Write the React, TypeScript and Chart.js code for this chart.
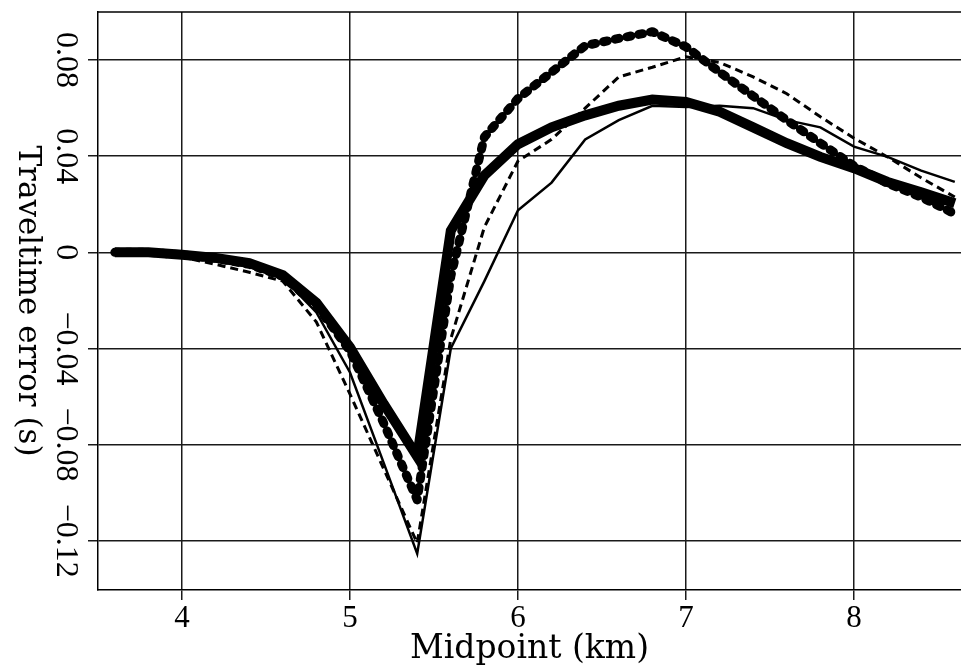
import React, { useEffect, useRef } from 'react';
import { Chart, registerables } from 'chart.js';

Chart.register(...registerables);

// Midpoint positions (km)
const midpoints = [3.6, 3.8, 4.0, 4.2, 4.4, 4.6, 4.8, 5.0, 5.2, 5.4, 5.6, 5.8, 6.0, 6.2, 6.4, 6.6, 6.8, 7.0, 7.2, 7.4, 7.6, 7.8, 8.0, 8.2, 8.4, 8.6];

// Traveltime errors (s)
const thinSolid = [0, 0, -0.0015, -0.0035, -0.006, -0.0105, -0.025, -0.05, -0.0875, -0.1254, -0.040, -0.012, 0.0175, 0.029, 0.047, 0.055, 0.061, 0.0605, 0.061, 0.060, 0.055, 0.052, 0.044, 0.0397, 0.034, 0.0293];
const thinDashed = [0, 0, -0.002, -0.005, -0.0083, -0.012, -0.029, -0.059, -0.09, -0.121, -0.036, 0.0105, 0.038, 0.047, 0.060, 0.073, 0.077, 0.0814, 0.079, 0.073, 0.066, 0.0564, 0.0475, 0.0397, 0.031, 0.023];
const thickSolid = [0, 0, -0.001, -0.0023, -0.0045, -0.0095, -0.021, -0.0395, -0.063, -0.085, 0.009, 0.032, 0.045, 0.052, 0.057, 0.061, 0.0636, 0.0626, 0.0585, 0.052, 0.0454, 0.0397, 0.035, 0.0293, 0.025, 0.0204];
const thickDotted = [0, 0, -0.001, -0.0025, -0.005, -0.010, -0.022, -0.041, -0.071, -0.103, -0.010, 0.048, 0.064, 0.075, 0.086, 0.089, 0.0918, 0.0855, 0.075, 0.065, 0.055, 0.0454, 0.036, 0.0287, 0.023, 0.016];

// Axis ticks and titles
const xTicks = [4, 5, 6, 7, 8];
const yTicks = [-0.12, -0.08, -0.04, 0, 0.04, 0.08];
const xTitle = 'Midpoint (km)';
const yTitle = 'Traveltime error (s)';
const xRange = [3.5, 8.637];
const yRange = [-0.1405, 0.1];

const toPoints = (ys: number[]) => midpoints.map((x, i) => ({ x, y: ys[i] }));

const fmtY = (v: number) => {
  if (Math.abs(v) < 1e-9) return '0';
  return (v < 0 ? '\u2212' : '') + Math.abs(v).toFixed(2);
};

const framePlugin = {
  id: 'frameAndTitle',
  afterDraw(chart: any) {
    const { ctx, chartArea } = chart;
    ctx.save();
    ctx.strokeStyle = '#000';
    ctx.lineWidth = 1.5;
    ctx.beginPath();
    ctx.moveTo(chartArea.left, chartArea.top);
    ctx.lineTo(chartArea.right, chartArea.top);
    ctx.stroke();
    ctx.translate(27, (chartArea.top + chartArea.bottom) / 2);
    ctx.rotate(Math.PI / 2);
    ctx.font = '31px "DejaVu Serif"';
    ctx.fillStyle = '#000';
    ctx.textAlign = 'center';
    ctx.textBaseline = 'middle';
    ctx.fillText(yTitle, 0, 0);
    ctx.restore();
  },
};

export default function App() {
  const ref = useRef<HTMLCanvasElement | null>(null);

  useEffect(() => {
    if (!ref.current) return;
    const gridColor = '#1a1a1a';
    const chart = new Chart(ref.current, {
      type: 'line',
      data: {
        datasets: [
          {
            label: 'thin solid',
            data: toPoints(thinSolid),
            borderColor: '#000',
            borderWidth: 2.5,
            pointRadius: 0,
            order: 0,
          },
          {
            label: 'thin dashed',
            data: toPoints(thinDashed),
            borderColor: '#000',
            borderWidth: 3,
            borderDash: [8, 5],
            pointRadius: 0,
            order: 1,
          },
          {
            label: 'thick solid',
            data: toPoints(thickSolid),
            borderColor: '#000',
            borderWidth: 10,
            pointRadius: 0,
            order: 2,
          },
          {
            label: 'thick dotted',
            data: toPoints(thickDotted),
            borderColor: '#000',
            borderWidth: 9,
            borderDash: [4, 8],
            borderCapStyle: 'round',
            borderJoinStyle: 'round',
            pointRadius: 0,
            order: 3,
          },
        ],
      },
      options: {
        animation: false,
        responsive: false,
        devicePixelRatio: 1,
        layout: { padding: { top: 12, left: 0, right: 0, bottom: 0 } },
        plugins: { legend: { display: false }, tooltip: { enabled: false } },
        elements: { line: { tension: 0, fill: false } },
        scales: {
          x: {
            type: 'linear',
            min: xRange[0],
            max: xRange[1],
            afterBuildTicks: (s: any) => {
              s.ticks = xTicks.map((v) => ({ value: v }));
            },
            afterFit: (s: any) => {
              s.height = 77;
              s.paddingLeft = 0;
              s.paddingRight = 0;
            },
            grid: { color: gridColor, lineWidth: 1.5, tickLength: 10, drawTicks: true },
            border: { display: true, color: '#000', width: 1.5 },
            ticks: {
              autoSkip: false,
              maxRotation: 0,
              minRotation: 0,
              padding: 0,
              color: '#000',
              font: { family: '"Liberation Serif"', size: 31 },
              callback: (v: any) => String(v),
            },
            title: {
              display: true,
              text: xTitle,
              color: '#000',
              font: { family: '"DejaVu Serif"', size: 33, lineHeight: 1 },
              padding: { top: 0, bottom: 1 },
            },
          },
          y: {
            type: 'linear',
            min: yRange[0],
            max: yRange[1],
            afterBuildTicks: (s: any) => {
              s.ticks = yTicks.map((v) => ({ value: v }));
            },
            afterFit: (s: any) => {
              s.width = 98;
              s.paddingTop = 0;
              s.paddingBottom = 0;
            },
            grid: { color: gridColor, lineWidth: 1.5, tickLength: 10, drawTicks: true },
            border: { display: true, color: '#000', width: 1.5 },
            ticks: {
              autoSkip: false,
              minRotation: -90,
              maxRotation: -90,
              crossAlign: 'center',
              padding: -14,
              color: '#000',
              font: { family: '"Liberation Serif"', size: 32 },
              callback: (v: any) => fmtY(Number(v)),
            },
            title: { display: false },
          },
        },
      } as any,
      plugins: [framePlugin],
    });
    return () => chart.destroy();
  }, []);

  return (
    <div style={{ position: 'absolute', left: 0, top: 0, width: 961, height: 667, background: '#fff' }}>
      <canvas ref={ref} width={961} height={667} style={{ display: 'block' }} />
    </div>
  );
}
